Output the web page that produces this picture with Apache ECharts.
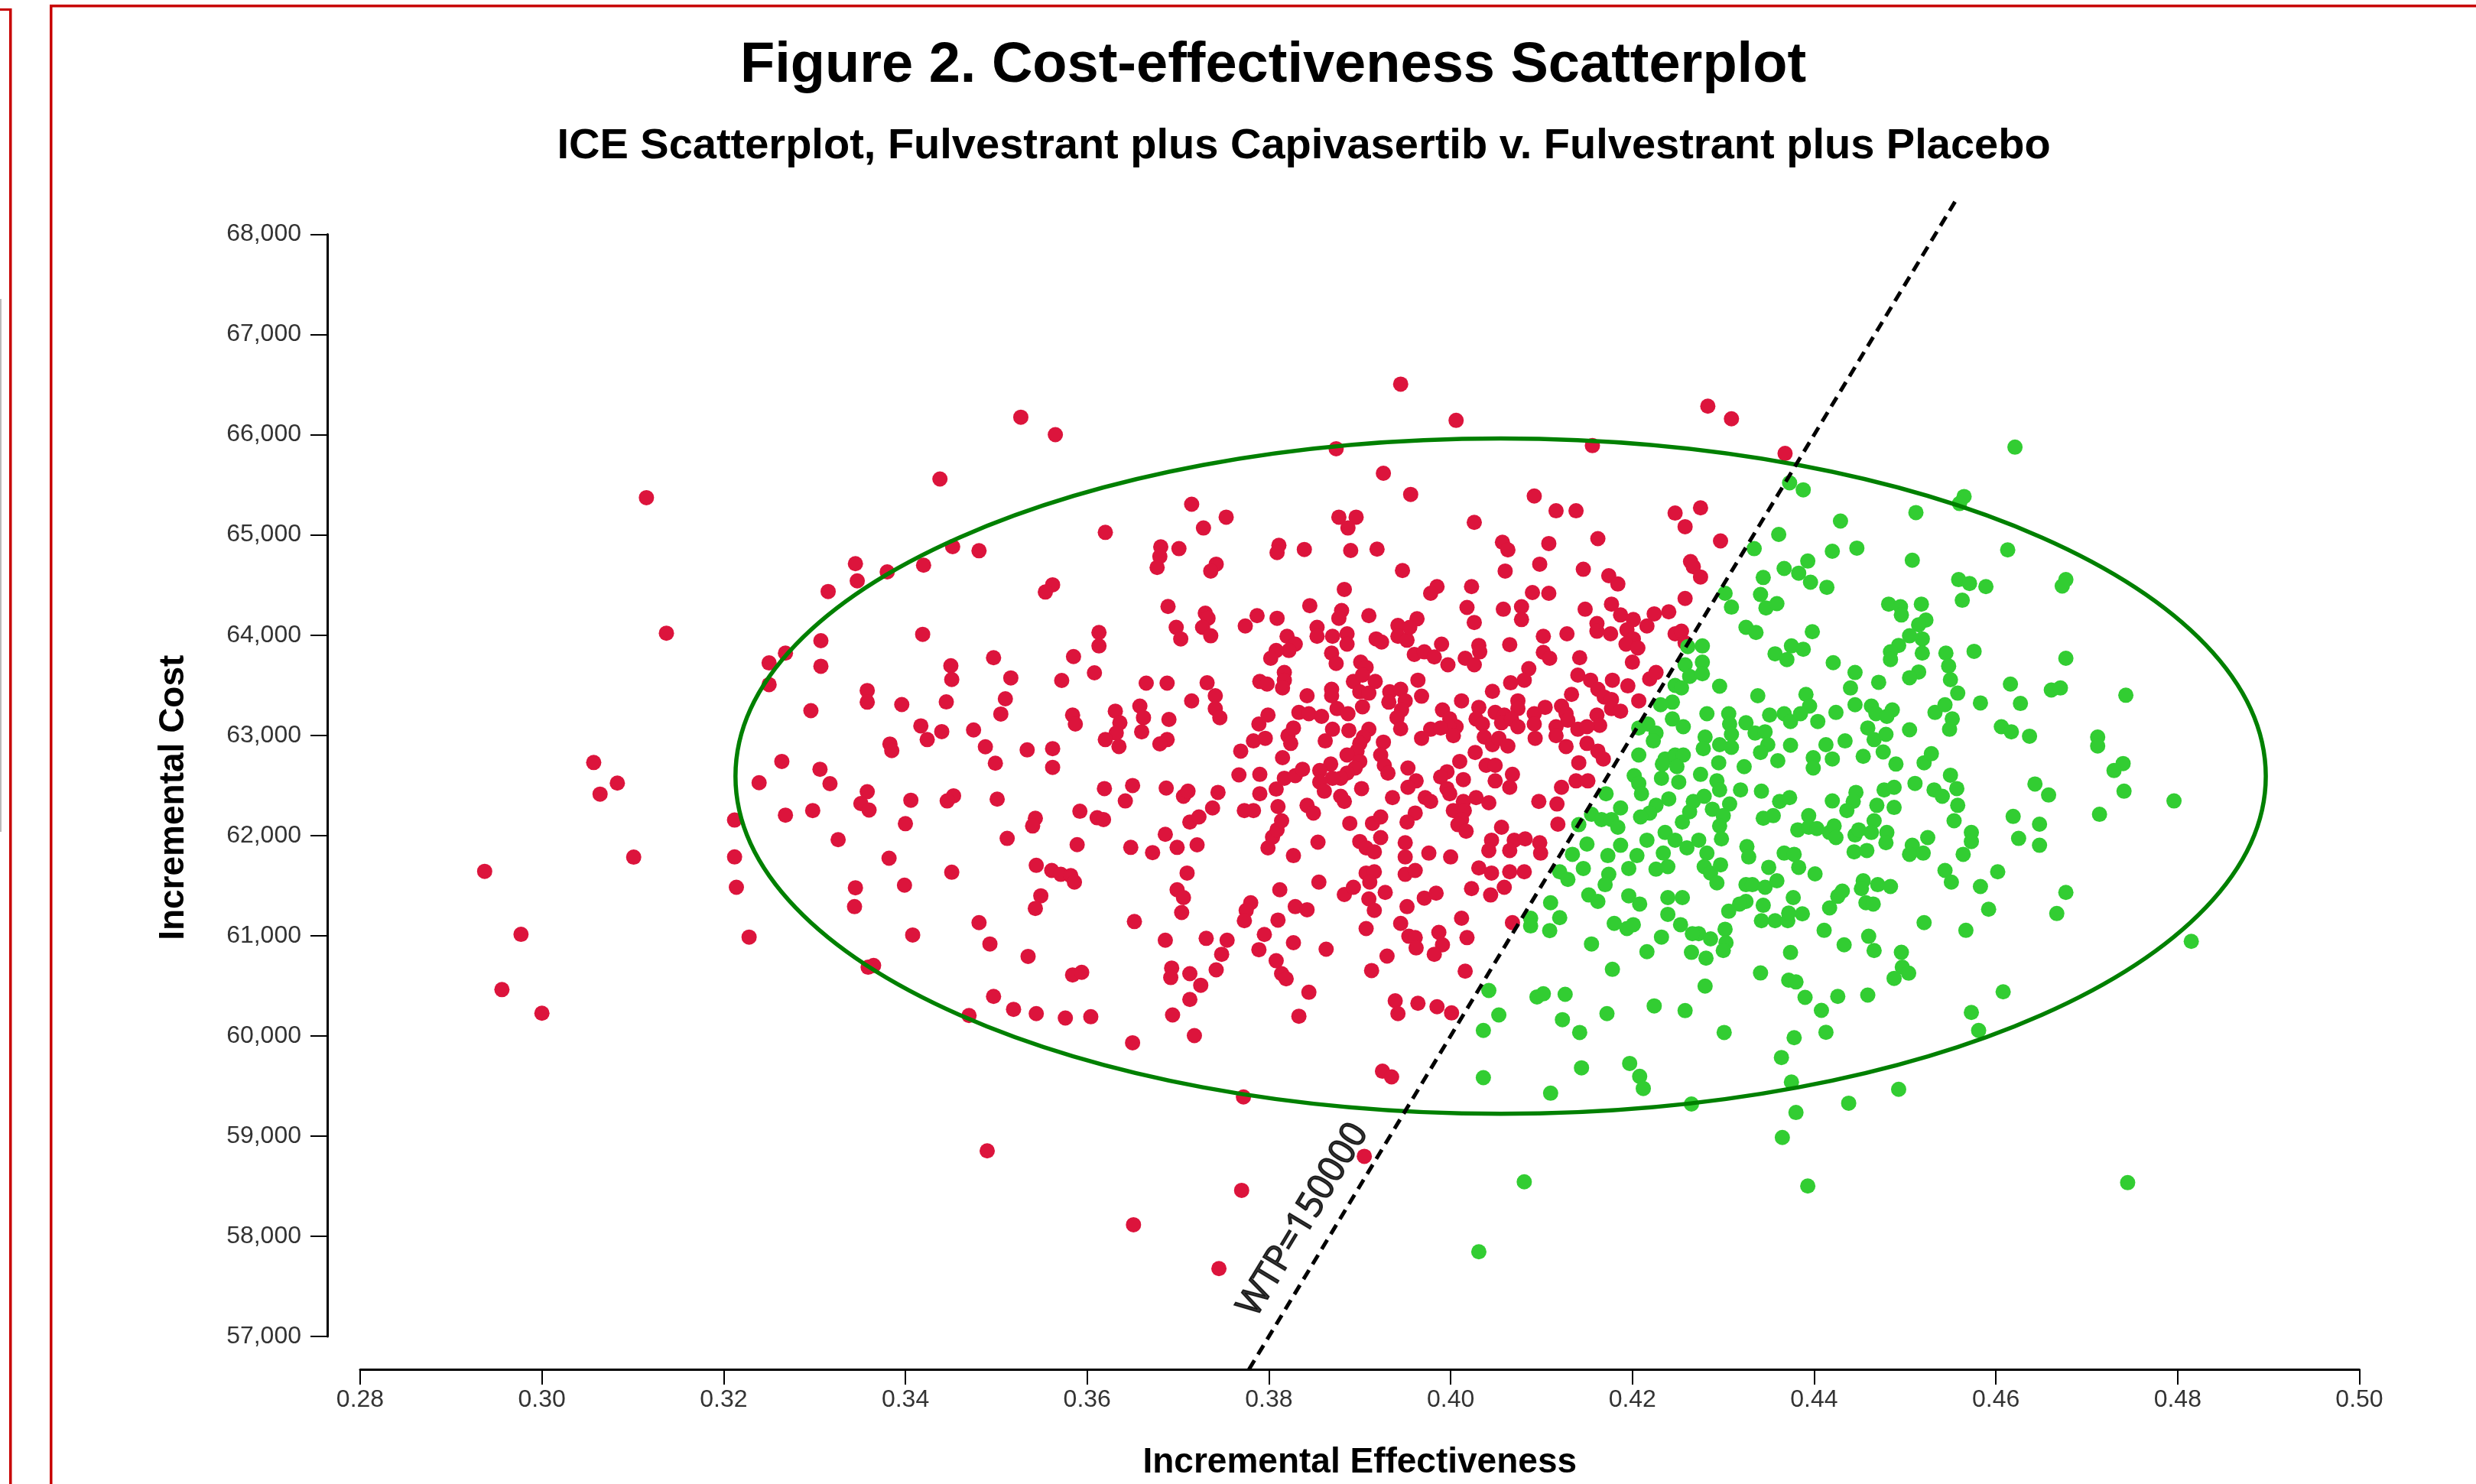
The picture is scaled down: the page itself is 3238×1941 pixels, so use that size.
<!DOCTYPE html>
<html>
<head>
<meta charset="utf-8">
<script src="https://cdn.jsdelivr.net/npm/echarts@6/dist/echarts.min.js"></script>
<style>
  html, body { margin: 0; padding: 0; background: #fff; }
  #chart { width: 3238px; height: 1941px; }
</style>
</head>
<body>
<div id="chart"></div>
<script>
var titleText = 'Figure 2. Cost-effectiveness Scatterplot';
var subtitleText = 'ICE Scatterplot, Fulvestrant plus Capivasertib v. Fulvestrant plus Placebo';
var xName = 'Incremental Effectiveness';
var yName = 'Incremental Cost';

// axis ranges (tick labels 0.28 .. 0.50 and 57,000 .. 68,000)
var xRange = [0.28, 0.50, 0.02];
var yRange = [57000, 68000, 1000];

// willingness to pay line
var WTP = 150000;
var wtpEffect = [0.3778, 0.4555];
var wtpLabelAt = [0.3838, 58163];

// confidence ellipse: centre and semi-axes
var ellipseCenter = [0.4055, 62592];
var ellipseRadius = [0.0842, 3370];

// simulations above the WTP line (red)
var redPoints = [
  [0.2937,61642],[0.2977,61013],[0.2956,60462],[0.3000,60226],[0.3057,62728],[0.3064,62413],[0.3083,62523],[0.3101,61784],
  [0.3115,65372],[0.3137,64019],[0.3527,66175],[0.3565,66001],[0.3945,66505],[0.4006,66143],[0.3874,65860],[0.4283,66285],
  [0.4309,66159],[0.4368,65813],[0.4156,65891],[0.3745,57677],
  [0.3438,65558],[0.3620,65025],[0.3715,65306],[0.3681,64881],[0.3680,64785],[0.3677,64675],[0.3701,64863],[0.3452,64883],
  [0.3481,64842],[0.3345,64713],[0.3347,64541],[0.3380,64631],[0.3420,64698],[0.3315,64435],[0.3562,64502],[0.3554,64430],
  [0.3689,64286],[0.3698,64077],[0.3703,63962],[0.3613,64026],[0.3613,63892],[0.3419,64008],[0.3307,63944],[0.3268,63820],
  [0.3250,63722],[0.3307,63689],[0.3250,63506],[0.3497,63774],[0.3450,63694],[0.3451,63557],[0.3585,63786],[0.3608,63624],
  [0.3516,63573],[0.3572,63547],[0.3665,63521],[0.3688,63521],[0.3358,63447],[0.3358,63331],[0.3396,63307],[0.3445,63333],
  [0.3510,63364],[0.3505,63212],[0.3296,63246],[0.3658,63292],[0.3662,63176],[0.3631,63241],[0.3636,63125],[0.3632,63022],
  [0.3620,62957],[0.3635,62888],[0.3660,63035],[0.3690,63158],[0.3688,62957],[0.3680,62914],[0.3715,63343],[0.3584,63202],
  [0.3587,63112],[0.3417,63094],[0.3424,62957],[0.3440,63037],[0.3475,63053],[0.3383,62913],[0.3385,62847],[0.3488,62885],
  [0.3534,62854],[0.3562,62867],[0.3562,62680],[0.3499,62721],[0.3264,62739],[0.3306,62661],[0.3239,62527],[0.3317,62517],
  [0.3358,62437],[0.3351,62319],[0.3360,62254],[0.3406,62352],[0.3453,62396],[0.3446,62345],[0.3501,62363],[0.3298,62249],
  [0.3268,62203],[0.3212,62154],[0.3400,62118],[0.3619,62468],[0.3650,62499],[0.3642,62345],[0.3687,62473],[0.3706,62391],
  [0.3711,62442],[0.3592,62242],[0.3611,62177],[0.3618,62159],[0.3543,62172],[0.3540,62095],[0.3713,62134],[0.3326,61958],
  [0.3512,61971],[0.3589,61909],[0.3686,62012],[0.3648,61881],[0.3672,61829],[0.3699,61881],[0.3212,61786],[0.3382,61773],
  [0.3926,65615],[0.3956,65404],[0.4092,65388],[0.4116,65241],[0.4138,65241],[0.4247,65218],[0.4258,65082],[0.3753,65177],
  [0.3728,65069],[0.3877,65177],[0.3896,65177],[0.3887,65069],[0.4026,65125],[0.3811,64896],[0.3809,64824],[0.3839,64855],
  [0.3890,64845],[0.3919,64858],[0.4057,64927],[0.4063,64850],[0.4108,64914],[0.4162,64963],[0.3742,64708],[0.3736,64639],
  [0.3947,64644],[0.4060,64639],[0.4098,64708],[0.4146,64657],[0.4174,64593],[0.4184,64510],[0.4264,64734],[0.4267,64683],
  [0.3883,64456],[0.3985,64484],[0.3978,64417],[0.4023,64484],[0.4090,64425],[0.4108,64417],[0.4258,64366],[0.3845,64294],
  [0.3880,64245],[0.3877,64168],[0.3910,64194],[0.4018,64276],[0.4026,64126],[0.4058,64258],[0.4078,64284],[0.4078,64155],
  [0.4148,64258],[0.4177,64309],[0.4187,64201],[0.4201,64155],[0.4224,64212],[0.4240,64232],[0.4161,64116],[0.4161,64039],
  [0.4176,64013],[0.4216,64091],[0.4194,64052],[0.4201,63962],[0.4193,63910],[0.4206,63872],[0.4200,63730],[0.4247,64013],
  [0.4254,64039],[0.4258,63923],[0.3730,64219],[0.3733,64168],[0.3727,64078],[0.3736,63993],[0.3774,64091],[0.3787,64194],
  [0.3809,64168],[0.3853,64078],[0.3853,63988],[0.3870,63988],[0.3886,64013],[0.3886,63910],[0.3820,63988],[0.3829,63910],
  [0.3822,63846],[0.3808,63846],[0.3802,63769],[0.3869,63820],[0.3874,63717],[0.3918,63962],[0.3924,63931],[0.3942,64096],
  [0.3942,63988],[0.3952,63949],[0.3963,64163],[0.3955,64078],[0.3960,63807],[0.3971,63833],[0.3982,63782],[0.3990,63910],
  [0.3997,63704],[0.4016,63769],[0.4026,63704],[0.4031,63897],[0.4032,63833],[0.4065,63905],[0.4102,63988],[0.4102,63828],
  [0.4109,63769],[0.4128,64013],[0.4142,63774],[0.3732,63524],[0.3741,63395],[0.3741,63266],[0.3746,63176],[0.3790,63537],
  [0.3798,63511],[0.3817,63627],[0.3817,63550],[0.3815,63473],[0.3842,63395],[0.3869,63460],[0.3869,63395],[0.3901,63730],
  [0.3907,63678],[0.3893,63537],[0.3903,63601],[0.3917,63537],[0.3900,63434],[0.3910,63421],[0.3903,63284],[0.3933,63434],
  [0.3932,63331],[0.3945,63460],[0.3964,63550],[0.3968,63390],[0.3950,63344],[0.3946,63253],[0.3941,63176],[0.3945,63065],
  [0.4012,63344],[0.4046,63439],[0.4086,63665],[0.4081,63550],[0.4066,63524],[0.4140,63601],[0.4154,63550],[0.4162,63460],
  [0.4169,63382],[0.4178,63550],[0.4195,63493],[0.4133,63408],[0.4177,63357],[0.4177,63266],[0.4187,63241],[0.4207,63344],
  [0.4219,63563],[0.4226,63627],[0.4074,63344],[0.4074,63266],[0.4104,63279],[0.4122,63292],[0.4127,63215],[0.4129,63150],
  [0.4161,63202],[0.4164,63099],[0.4140,63060],[0.4150,63086],[0.4150,62919],[0.4127,62888],[0.4162,62842],[0.4168,62764],
  [0.4141,62726],[0.4138,62545],[0.4151,62545],[0.4122,62481],[0.4031,63279],[0.4049,63228],[0.4059,63202],[0.4028,63163],
  [0.4035,63112],[0.4056,63125],[0.4067,63163],[0.4074,63086],[0.4092,63215],[0.4092,63112],[0.4116,63086],[0.4093,62970],
  [0.4116,62996],[0.3991,63253],[0.3999,63163],[0.4006,63086],[0.3998,63086],[0.3978,63060],[0.3989,63073],[0.3968,62970],
  [0.4003,62996],[0.4037,62983],[0.4046,62906],[0.4053,62970],[0.4063,62893],[0.4027,62829],[0.4010,62739],[0.4039,62700],
  [0.4049,62700],[0.4049,62545],[0.4068,62610],[0.4065,62481],[0.4014,62558],[0.3996,62636],[0.3989,62584],[0.3996,62468],
  [0.3999,62417],[0.3953,62674],[0.3962,62545],[0.3953,62481],[0.3936,62378],[0.3972,62378],[0.3978,62340],[0.4028,62378],
  [0.4042,62326],[0.4014,62340],[0.4003,62249],[0.4015,62249],[0.4012,62159],[0.4008,62108],[0.4017,62043],[0.3961,62224],
  [0.3952,62134],[0.4056,62082],[0.4097,62340],[0.4117,62314],[0.4118,62113],[0.4070,61953],[0.4065,61850],[0.4082,61966],
  [0.4098,61928],[0.4099,61824],[0.4045,61953],[0.4042,61850],[0.4000,61786],[0.3976,61824],[0.3950,61928],[0.3950,61786],
  [0.3923,61979],[0.3914,62121],[0.3923,62185],[0.3900,61940],[0.3907,61876],[0.3916,61837],[0.3889,62121],[0.3854,61933],
  [0.3827,61799],[0.3799,61876],[0.3804,61984],[0.3809,62056],[0.3814,62147],[0.3810,62288],[0.3773,62249],[0.3783,62249],
  [0.3738,62275],[0.3744,62430],[0.3723,62185],[0.3721,61907],[0.3767,62605],[0.3790,62610],[0.3790,62417],[0.3808,62463],
  [0.3817,62571],[0.3829,62597],[0.3837,62661],[0.3815,62777],[0.3769,62842],[0.3789,63112],[0.3799,63202],[0.3783,62944],
  [0.3796,62970],[0.3821,62996],[0.3827,63073],[0.3824,62919],[0.3833,63228],[0.3844,63215],[0.3858,63189],[0.3875,63266],
  [0.3887,63215],[0.3870,63060],[0.3888,63048],[0.3862,62944],[0.3910,63060],[0.3904,62983],[0.3900,62919],[0.3897,62842],
  [0.3886,62803],[0.3900,62739],[0.3895,62674],[0.3886,62623],[0.3879,62571],[0.3870,62571],[0.3868,62713],[0.3856,62648],
  [0.3856,62533],[0.3861,62442],[0.3879,62391],[0.3883,62340],[0.3902,62468],[0.3926,62932],[0.3923,62803],[0.3927,62700],
  [0.3931,62623],[0.3842,62301],[0.3849,62224],
  [0.4275,65270],[0.4297,64940],[0.4275,64580],
  [0.3214,61483],[0.3345,61478],[0.3344,61290],[0.3399,61504],[0.3451,61633],[0.3544,61702],[0.3561,61651],[0.3571,61612],
  [0.3582,61599],[0.3586,61535],[0.3549,61398],[0.3543,61272],[0.3710,61625],[0.3699,61458],[0.3706,61380],[0.3704,61231],
  [0.3228,60986],[0.3408,61007],[0.3481,61130],[0.3493,60917],[0.3535,60793],[0.3652,61141],[0.3686,60955],[0.3359,60685],
  [0.3365,60703],[0.3584,60608],[0.3594,60634],[0.3693,60677],[0.3692,60582],[0.3713,60621],[0.3497,60394],[0.3519,60265],
  [0.3544,60222],[0.3576,60178],[0.3604,60191],[0.3470,60203],[0.3694,60209],[0.3713,60363],[0.3650,59931],[0.3490,58852],
  [0.3651,58115],
  [0.3855,61535],[0.3812,61458],[0.3780,61329],[0.3775,61252],[0.3773,61149],[0.3829,61290],[0.3842,61259],[0.3810,61156],
  [0.3883,61411],[0.3893,61483],[0.3907,61625],[0.3916,61638],[0.3911,61535],[0.3910,61367],[0.3916,61252],[0.3928,61432],
  [0.3950,61612],[0.3961,61651],[0.3952,61290],[0.3971,61375],[0.3984,61424],[0.3945,61123],[0.3954,60994],[0.3961,60981],
  [0.3962,60878],[0.3987,61033],[0.3991,60909],[0.3982,60814],[0.3907,61071],[0.3930,60796],[0.3913,60652],[0.4012,61174],
  [0.4018,60981],[0.4016,60646],[0.4023,61470],[0.4031,61676],[0.4045,61625],[0.4059,61483],[0.4044,61406],[0.4065,61638],
  [0.4081,61638],[0.4068,61130],[0.3731,60973],[0.3754,60955],[0.3789,60860],[0.3748,60814],[0.3742,60659],[0.3725,60505],
  [0.3795,61012],[0.3827,60930],[0.3863,60865],[0.3808,60750],[0.3814,60621],[0.3819,60569],[0.3844,60435],[0.3833,60196],
  [0.3718,60003],[0.3939,60350],[0.3942,60222],[0.3964,60325],[0.3985,60291],[0.4001,60229],[0.3925,59647],[0.3935,59591],
  [0.3772,59390],[0.3905,58798],[0.3770,58458]
];

// simulations below the WTP line (green)
var greenPoints = [
  [0.4621,65876],
  [0.4261,63885],[0.4258,63704],[0.4263,63588],[0.4247,63498],[0.4254,63473],[0.4244,63331],[0.4231,63305],[0.4244,63163],
  [0.4256,63086],[0.4217,63112],[0.4207,63073],[0.4226,63022],[0.4223,62944],[0.4207,62803],[0.4236,62764],[0.4247,62803],
  [0.4256,62803],[0.4233,62713],[0.4249,62687],[0.4202,62597],[0.4207,62520],[0.4232,62571],[0.4251,62533],[0.4210,62417],
  [0.4171,62417],[0.4187,62275],[0.4240,62365],[0.4226,62301],[0.4219,62224],[0.4209,62185],[0.4255,62134],[0.4263,62237],
  [0.4267,62340],[0.4155,62211],[0.4166,62159],[0.4177,62159],[0.4184,62082],[0.4141,62108],[0.4150,61914],[0.4134,61812],
  [0.4173,61799],[0.4187,61902],[0.4216,61953],[0.4236,62030],[0.4247,61953],[0.4260,61876],[0.4205,61799],[0.4234,61824],
  [0.4373,65520],[0.4388,65450],[0.4565,65383],[0.4560,65313],[0.4512,65223],[0.4429,65138],[0.4361,65005],[0.4334,64863],
  [0.4420,64837],[0.4447,64868],[0.4613,64850],[0.4508,64747],[0.4393,64739],[0.4367,64665],[0.4383,64618],[0.4396,64528],
  [0.4344,64575],[0.4414,64477],[0.4302,64417],[0.4341,64405],[0.4309,64279],[0.4347,64271],[0.4359,64314],[0.4559,64554],
  [0.4571,64515],[0.4589,64484],[0.4677,64554],[0.4673,64490],[0.4563,64348],[0.4482,64309],[0.4495,64284],[0.4496,64201],
  [0.4518,64309],[0.4523,64150],[0.4515,64103],[0.4325,64078],[0.4336,64026],[0.4398,64034],[0.4505,63993],[0.4519,63962],
  [0.4493,63897],[0.4484,63833],[0.4484,63756],[0.4519,63820],[0.4277,63892],[0.4277,63730],[0.4277,63614],[0.4357,63813],
  [0.4375,63892],[0.4388,63859],[0.4370,63756],[0.4421,63725],[0.4445,63627],[0.4545,63820],[0.4548,63691],[0.4550,63555],
  [0.4576,63838],[0.4677,63769],[0.4515,63632],[0.4505,63575],[0.4296,63490],[0.4338,63395],[0.4391,63408],[0.4395,63292],
  [0.4471,63529],[0.4440,63472],[0.4445,63305],[0.4558,63421],[0.4616,63511],[0.4661,63452],[0.4671,63472],[0.4743,63400],
  [0.4583,63323],[0.4627,63318],[0.4282,63215],[0.4306,63215],[0.4307,63112],[0.4325,63125],[0.4351,63202],[0.4367,63215],
  [0.4374,63138],[0.4385,63215],[0.4404,63138],[0.4424,63228],[0.4463,63292],[0.4468,63215],[0.4486,63253],[0.4480,63189],
  [0.4459,63073],[0.4466,62957],[0.4479,63009],[0.4505,63055],[0.4533,63228],[0.4544,63305],[0.4552,63163],[0.4549,63060],
  [0.4606,63086],[0.4617,63035],[0.4637,62991],[0.4712,62983],[0.4712,62893],[0.4740,62718],[0.4730,62648],[0.4643,62514],
  [0.4658,62404],[0.4741,62442],[0.4796,62345],[0.4714,62211],[0.4280,62983],[0.4278,62867],[0.4296,62906],[0.4309,62880],
  [0.4309,63009],[0.4335,63022],[0.4346,63035],[0.4349,62906],[0.4341,62829],[0.4374,62901],[0.4360,62746],[0.4295,62726],
  [0.4323,62687],[0.4275,62610],[0.4293,62545],[0.4296,62455],[0.4279,62391],[0.4307,62314],[0.4288,62262],[0.4300,62198],
  [0.4296,62095],[0.4298,61966],[0.4273,61953],[0.4282,61824],[0.4319,62455],[0.4342,62442],[0.4362,62340],[0.4373,62378],
  [0.4399,62777],[0.4399,62674],[0.4413,62906],[0.4420,62764],[0.4434,62944],[0.4454,62790],[0.4476,62834],[0.4490,62713],
  [0.4521,62726],[0.4529,62816],[0.4550,62602],[0.4557,62468],[0.4511,62520],[0.4532,62455],[0.4541,62391],[0.4558,62301],
  [0.4554,62147],[0.4477,62455],[0.4488,62481],[0.4446,62430],[0.4443,62340],[0.4436,62249],[0.4420,62345],[0.4469,62301],
  [0.4488,62280],[0.4466,62147],[0.4344,62172],[0.4355,62198],[0.4394,62198],[0.4382,62056],[0.4394,62082],[0.4403,62069],
  [0.4417,62030],[0.4422,62095],[0.4424,61979],[0.4445,62005],[0.4449,62056],[0.4463,62030],[0.4480,62030],[0.4479,61928],
  [0.4444,61837],[0.4458,61850],[0.4508,61902],[0.4520,61824],[0.4505,61812],[0.4525,61979],[0.4573,62030],[0.4573,61940],
  [0.4564,61812],[0.4619,62190],[0.4625,61971],[0.4648,62113],[0.4648,61902],[0.4326,61889],[0.4328,61786],[0.4367,61824],
  [0.4378,61812],
  [0.4279,61689],[0.4286,61625],[0.4297,61707],[0.4293,61527],[0.4350,61682],[0.4383,61682],[0.4401,61617],[0.4325,61509],
  [0.4332,61509],[0.4346,61483],[0.4359,61548],[0.4325,61342],[0.4318,61316],[0.4306,61244],[0.4344,61303],[0.4377,61380],
  [0.4342,61149],[0.4357,61149],[0.4371,61149],[0.4372,61226],[0.4387,61218],[0.4417,61277],[0.4426,61393],[0.4431,61445],
  [0.4454,61548],[0.4452,61470],[0.4470,61509],[0.4484,61491],[0.4457,61329],[0.4465,61316],[0.4544,61651],[0.4551,61535],
  [0.4583,61491],[0.4602,61638],[0.4592,61264],[0.4677,61432],[0.4667,61221],[0.4521,61130],[0.4567,61053],[0.4815,60943],
  [0.4273,61020],[0.4286,60968],[0.4302,61064],[0.4303,60930],[0.4300,60852],[0.4281,60775],[0.4411,61053],[0.4374,60832],
  [0.4433,60909],[0.4460,60994],[0.4466,60852],[0.4496,60834],[0.4497,60685],[0.4504,60626],[0.4488,60574],[0.4341,60628],
  [0.4372,60556],[0.4380,60538],[0.4280,60497],[0.4390,60384],[0.4426,60394],[0.4459,60407],[0.4408,60255],[0.4608,60440],
  [0.4573,60234],[0.4581,60054],[0.4301,60034],[0.4378,59982],[0.4413,60036],[0.4364,59784],[0.4375,59539],[0.4493,59467],
  [0.4438,59328],[0.4380,59235],[0.4365,58986],[0.4393,58501],[0.4745,58535],
  [0.4120,61638],[0.4129,61561],[0.4146,61671],[0.4174,61612],[0.4170,61509],[0.4196,61671],[0.4226,61664],[0.4239,61689],
  [0.4152,61406],[0.4162,61342],[0.4196,61398],[0.4208,61316],[0.4239,61380],[0.4255,61380],[0.4110,61329],[0.4120,61180],
  [0.4088,61174],[0.4088,61097],[0.4109,61051],[0.4180,61123],[0.4194,61071],[0.4201,61110],[0.4239,61213],[0.4253,61110],
  [0.4232,60986],[0.4266,61020],[0.4155,60917],[0.4216,60840],[0.4265,60834],[0.4178,60664],[0.4042,60453],[0.4095,60389],
  [0.4102,60420],[0.4126,60415],[0.4053,60209],[0.4036,60054],[0.4123,60162],[0.4142,60034],[0.4172,60222],[0.4224,60299],
  [0.4258,60252],[0.4144,59681],[0.4197,59725],[0.4208,59596],[0.4212,59475],[0.4110,59428],[0.4036,59583],[0.4265,59320],
  [0.4081,58543],[0.4031,57845]
];

var chart = echarts.init(document.getElementById('chart'));

var tickFont = { fontFamily: 'Liberation Sans', fontSize: 32, color: '#333' };
var nameFont = { fontFamily: 'Liberation Sans', fontSize: 46, fontWeight: 'bold', color: '#000' };

var option = {
  animation: false,
  backgroundColor: '#fff',
  title: [
    {
      text: titleText, left: 1665, top: 50, textAlign: 'center', padding: 0,
      textStyle: { fontFamily: 'Liberation Sans', fontSize: 74, fontWeight: 'bold', color: '#000', lineHeight: 74 }
    },
    {
      text: subtitleText, left: 1705, top: 164, textAlign: 'center', padding: 0,
      textStyle: { fontFamily: 'Liberation Sans', fontSize: 56, fontWeight: 'bold', color: '#000', lineHeight: 56 }
    }
  ],
  graphic: [
    { type: 'rect', shape: { x: 0, y: 11, width: 15, height: 3 }, style: { fill: '#c80000' } },
    { type: 'rect', shape: { x: 12, y: 11, width: 3.5, height: 1930 }, style: { fill: '#c80000' } },
    { type: 'rect', shape: { x: 0, y: 391, width: 2, height: 697 }, style: { fill: '#bbbbbb' } },
    { type: 'rect', shape: { x: 65, y: 6, width: 3.5, height: 1935 }, style: { fill: '#c80000' } },
    { type: 'rect', shape: { x: 65, y: 6, width: 3173, height: 3.5 }, style: { fill: '#c80000' } }
  ],
  grid: { left: 471, top: 306.5, width: 2614.5, height: 1444.5 },
  xAxis: {
    type: 'value',
    min: xRange[0], max: xRange[1], interval: xRange[2],
    offset: 43,
    name: xName, nameLocation: 'middle', nameGap: 99, nameTextStyle: nameFont,
    splitLine: { show: false },
    axisLine: { show: true, onZero: false, lineStyle: { color: '#000', width: 3 } },
    axisTick: { show: true, inside: false, length: 20, lineStyle: { color: '#000', width: 2 } },
    axisLabel: Object.assign({ margin: 24, formatter: function (v) { return v.toFixed(2); } }, tickFont)
  },
  yAxis: {
    type: 'value',
    min: yRange[0], max: yRange[1], interval: yRange[2],
    offset: 43,
    name: yName, nameLocation: 'middle', nameGap: 178,
    nameTextStyle: Object.assign({ padding: [0, 32, 0, 0] }, nameFont),
    splitLine: { show: false },
    axisLine: { show: true, onZero: false, lineStyle: { color: '#000', width: 3 } },
    axisTick: { show: true, inside: false, length: 22, lineStyle: { color: '#000', width: 2 } },
    axisLabel: Object.assign({
      margin: 34,
      formatter: function (v) { return String(v).replace(/\B(?=(\d{3})+(?!\d))/g, ','); }
    }, tickFont)
  },
  series: [
    {
      name: 'above WTP', type: 'scatter', data: redPoints, symbolSize: 20,
      itemStyle: { color: '#dc143c', opacity: 1 }, z: 2, silent: true
    },
    {
      name: 'below WTP', type: 'scatter', data: greenPoints, symbolSize: 20,
      itemStyle: { color: '#32cd32', opacity: 1 }, z: 2, silent: true
    },
    {
      name: 'ellipse', type: 'custom', z: 3, silent: true, clip: false,
      data: [[ellipseCenter[0], ellipseCenter[1], ellipseRadius[0], ellipseRadius[1]]],
      encode: { x: 0, y: 1 },
      renderItem: function (params, api) {
        var c = api.coord([api.value(0), api.value(1)]);
        var s = api.size([api.value(2), api.value(3)], [api.value(0), api.value(1)]);
        return {
          type: 'ellipse',
          shape: { cx: c[0], cy: c[1], rx: s[0], ry: s[1] },
          style: { fill: 'none', stroke: '#008000', lineWidth: 5.5 }
        };
      }
    },
    {
      name: 'WTP', type: 'line', z: 4, silent: true, clip: false, symbol: 'none',
      data: wtpEffect.map(function (e) { return [e, e * WTP]; }),
      lineStyle: { color: '#000', width: 5, type: [14, 9] }
    },
    {
      name: 'WTP label', type: 'scatter', z: 5, silent: true, symbolSize: 0,
      data: [wtpLabelAt],
      label: {
        show: true, position: 'inside', rotate: 58.9,
        formatter: function () { return 'WTP=' + WTP; },
        fontFamily: 'Open Sans', fontSize: 47, color: '#000',
        textBorderColor: '#000', textBorderWidth: 1.6
      }
    }
  ]
};

chart.setOption(option);
</script>
</body>
</html>
